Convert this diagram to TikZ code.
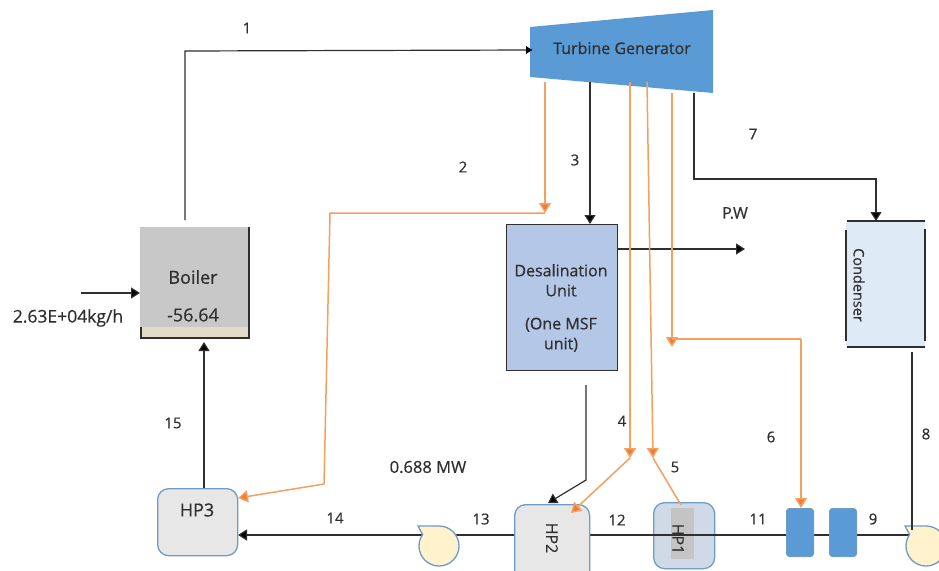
\documentclass[tikz,border=0pt]{standalone}
\usepackage{fontspec}
\setmainfont{Open Sans}[FakeBold=0.5]
\usetikzlibrary{arrows.meta}
\definecolor{orangeln}{HTML}{F4A060}
\definecolor{orangetip}{HTML}{ED7D31}
\definecolor{inkc}{HTML}{2F2F2F}
\definecolor{bluefill}{HTML}{5B9BD5}
\definecolor{hpedge}{HTML}{6F9CC4}
\definecolor{pumpfill}{HTML}{FFF2CC}
\definecolor{boilerfill}{HTML}{C8C8C8}
\definecolor{bandfill}{HTML}{E2DCC6}
\definecolor{desfill}{HTML}{B4C7E7}
\definecolor{condfill}{HTML}{DEEBF7}
\definecolor{hponefill}{HTML}{D0DAE6}
\definecolor{hpgray}{HTML}{C4C4C4}
\definecolor{hpfill}{HTML}{E7E7E7}
\tikzset{
  x=1pt,y=-1pt,
  flow/.style={draw=inkc,line width=1.2pt,line join=miter},
  flowarrow/.style={flow,-{Triangle[length=9pt,width=11pt,fill=black]}},
  steam/.style={draw=orangeln,line width=1.5pt},
  steamarrow/.style={steam,-{Triangle[length=10pt,width=12pt,fill=orangetip]}},
  lbl/.style={font=\fontsize{15}{18}\selectfont,text=inkc,inner sep=0pt},
  boxtxt/.style={font=\fontsize{16}{19}\selectfont,text=inkc,inner sep=0pt,align=center},
  hpbox/.style={draw=hpedge,line width=1.3pt,rounded corners=11pt,fill=#1,anchor=north west,inner sep=0pt},
  bluebox/.style={draw=hpedge,line width=1pt,rounded corners=3pt,fill=bluefill,anchor=north west,inner sep=0pt,minimum width=27pt,minimum height=48pt},
  pumpbody/.style={draw=hpedge,line width=1.3pt,fill=pumpfill},
}
\begin{document}
\begin{tikzpicture}
\path[use as bounding box,clip] (0,0) rectangle (939,570);
\fill[white] (0,0) rectangle (939,570);

% coordinates
\coordinate (boilerTop) at (185,220);
\coordinate (c1) at (185,51);
\coordinate (turbIn) at (532,50);
\coordinate (t2) at (545,82);
\coordinate (e2) at (545,213);
\coordinate (c2a) at (330,213);
\coordinate (c2b) at (324,484);
\coordinate (t3) at (590,82);
\coordinate (t4) at (630,82);
\coordinate (e4) at (630,458);
\coordinate (t5) at (647,82);
\coordinate (e5) at (653,458);
\coordinate (t6) at (672,93);
\coordinate (e6) at (672,347);
\coordinate (c6a) at (672,339);
\coordinate (c6) at (801,339);
\coordinate (t7) at (694,93);
\coordinate (c7a) at (694,179);
\coordinate (c7b) at (876,179);
\coordinate (pwEnd) at (745,249);
\coordinate (feed) at (81,293);
\coordinate (dsOut) at (586,385);
\coordinate (dsElbow) at (586,480);
\coordinate (c8a) at (912,352);
\coordinate (c8b) at (912,530);
\coordinate (hp3In) at (238,535);
\coordinate (hp3Out) at (204,488);
\coordinate (boilerIn) at (204,342);
\coordinate (pumpA) at (430,535);
\coordinate (pumpAout) at (450,535);
\coordinate (pumpB) at (915,535);

% turbine
\fill[bluefill] (530,27) -- (713,10) -- (713,93) -- (530,77) -- cycle;
\node[boxtxt] (turb) at (622,48) {Turbine Generator};

% boiler
\node[fill=boilerfill,anchor=north west,inner sep=0pt,minimum width=109pt,minimum height=111pt] (boiler) at (140,227) {};
\fill[bandfill] (141,327) rectangle (249,338);
\draw[inkc,line width=1.2pt] (141,327) -- (141,338) -- (249,338) -- (249,227);
\node[boxtxt,font=\fontsize{18}{20}\selectfont] (boilerName) at (193,277) {Boiler};
\node[boxtxt,font=\fontsize{18}{20}\selectfont] (boilerVal) at (193,315) {-56.64};

% desalination
\node[draw=inkc,line width=1.4pt,fill=desfill,anchor=north west,inner sep=0pt,minimum width=111pt,minimum height=146pt] (des) at (506,224) {};
\node[boxtxt,font=\fontsize{16}{20}\selectfont] (desTxt) at (561,308) {Desalination\\Unit\\[13pt](One MSF\\unit)};

% condenser
\node[fill=condfill,anchor=north west,inner sep=0pt,minimum width=79pt,minimum height=126pt] (cond) at (846,221) {};
\draw[inkc,line width=1.3pt] (847,221) -- (925,221);
\draw[inkc,line width=1.3pt] (847,347) -- (925,347);
\draw[inkc,line width=1.5pt] (846,230) -- (846,341);
\draw[inkc,line width=1.5pt] (925,229) -- (925,341);
\node[boxtxt,font=\fontsize{14.5}{16}\selectfont,rotate=-90] (condTxt) at (859,285) {Condenser};

% HP1 beneath the line
\node[hpbox=hponefill,minimum width=61pt,minimum height=66pt] (hp1) at (653,502) {};
\fill[hpgray] (671,508) rectangle (694,559);

% heater train line
\draw[flow] (pumpB) -- (pumpAout);
\draw[flowarrow] (pumpA) -- (hp3In);
\node[boxtxt,rotate=-90] (hp1Txt) at (678,539) {HP1};

% HP2, HP3, feedwater heaters
\node[hpbox=hpfill,minimum width=75pt,minimum height=80pt] (hp2) at (514,504) {};
\node[boxtxt,rotate=-90] (hp2Txt) at (552,538) {HP2};
\node[hpbox=hpfill,minimum width=80pt,minimum height=67pt] (hp3) at (157,488) {};
\node[boxtxt,font=\fontsize{18}{20}\selectfont] (hp3Txt) at (197,510) {HP3};
\node[bluebox] (fw1) at (786,508) {};
\node[bluebox] (fw2) at (829,508) {};

% pumps
\draw[pumpbody] (418,526) -- (439,526) arc[start angle=90,end angle=-215,radius=20pt] -- cycle;
\draw[pumpbody] (905,526) -- (926,526) arc[start angle=90,end angle=-215,radius=20pt] -- cycle;

% black connectors
\draw[flow] (boilerTop) -- (c1) -- (turbIn);
\fill[black] (526,46) -- (532,50) -- (526,54) -- cycle;
\draw[flowarrow] (t3) -- (des.north -| t3);
\draw[flowarrow] (t7) -- (c7a) -- (c7b) -- (cond.north -| c7b);
\draw[flowarrow] (des.east |- pwEnd) -- (pwEnd);
\draw[flowarrow] (feed) -- (boiler.west |- feed);
\draw[flowarrow] (hp3Out) -- (boilerIn);
\draw[flowarrow] (dsOut) -- (dsElbow) -- (548,503);
\draw[flow] (c8a) -- (c8b);

% orange connectors
\draw[steamarrow] (t2) -- (e2);
\draw[steam] (e2) -- (c2a) -- (c2b);
\draw[steamarrow] (c2b) -- (238,498);
\draw[steamarrow] (t4) -- (e4);
\draw[steamarrow] (e4) -- (571,513);
\draw[steamarrow] (t5) -- (e5);
\draw[steam] (e5) -- (681,505);
\draw[steamarrow] (t6) -- (e6);
\draw[steam] (c6a) -- (c6);
\draw[steamarrow] (c6) -- (fw1.north -| c6);

% labels
\node[lbl] (n1) at (247,28) {1};
\node[lbl] (n2) at (463,167) {2};
\node[lbl] (n3) at (575,160) {3};
\node[lbl] (n4) at (622,421) {4};
\node[lbl] (n5) at (675,467) {5};
\node[lbl] (n6) at (771,437) {6};
\node[lbl] (n7) at (753,134) {7};
\node[lbl] (n8) at (926,434) {8};
\node[lbl] (n9) at (873,519) {9};
\node[lbl] (n11) at (758,519) {11};
\node[lbl] (n12) at (617,520) {12};
\node[lbl] (n13) at (481,519) {13};
\node[lbl] (n14) at (335,518) {14};
\node[lbl] (n15) at (173,423) {15};
\node[lbl,font=\fontsize{16}{18}\selectfont] (pw) at (735,213) {P.W};
\node[lbl,font=\fontsize{16.5}{18}\selectfont] (mw) at (428,467) {0.688 MW};
\node[lbl,font=\fontsize{17.5}{18}\selectfont] (feedTxt) at (68,318) {2.63E+04kg/h};
\end{tikzpicture}
\end{document}
